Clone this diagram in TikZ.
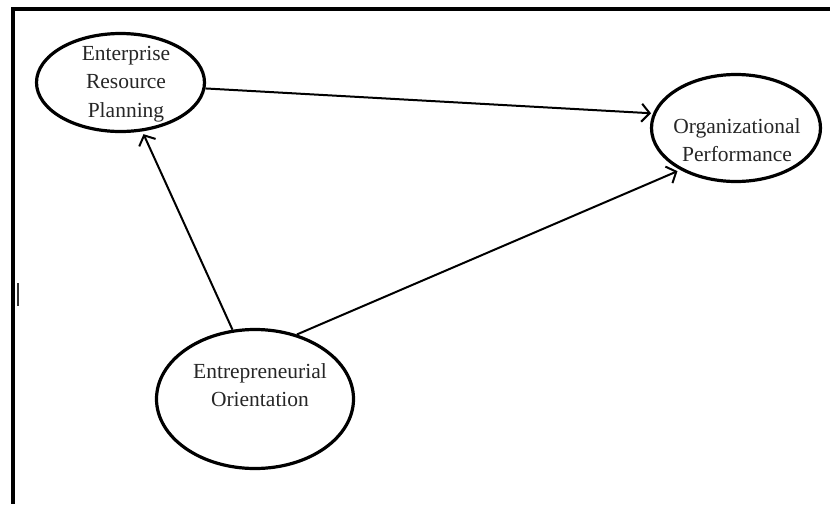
\documentclass[tikz,border=0pt]{standalone}
\usepackage{fontspec}
\setmainfont{Liberation Serif}
\usetikzlibrary{shapes.geometric,arrows.meta}
\tikzset{
  oval/.style={ellipse, draw=black, line width=3.2pt, inner sep=0pt},
  lbl/.style={align=center, font=\fontsize{21.5}{28.5}\selectfont, text=black!85, inner sep=0pt},
  conn/.style={line width=2pt, draw=black, -{Straight Barb[length=8pt,width=18pt,line width=2pt]}},
  frame/.style={line width=4pt, draw=black}
}
\begin{document}
\begin{tikzpicture}[x=1pt,y=-1pt]
\useasboundingbox (0,0) rectangle (830,504);
% frame
\coordinate (ftr) at (830,9);
\coordinate (ftl) at (13,9);
\coordinate (fbl) at (13,504);
\draw[frame] (ftr) -- (ftl) -- (fbl);
\coordinate (bara) at (18,283);
\coordinate (barb) at (18,306);
\draw[line width=2pt, draw=black!80] (bara) -- (barb);
% nodes
\node[oval, minimum width=168pt, minimum height=98pt] (erp) at (120.5,82.5) {};
\node[lbl] (erptext) at (126,84) {Enterprise\\Resource\\Planning};
\node[oval, minimum width=169pt, minimum height=107pt] (op) at (736,128) {};
\node[lbl] (optext) at (737,140) {Organizational\\Performance};
\node[oval, minimum width=197pt, minimum height=139pt] (eo) at (255,399) {};
\node[lbl] (eotext) at (260,385) {Entrepreneurial\\Orientation};
% connectors
\draw[conn, shorten >=2pt] (erp.-4) -- (op.170.5);
\draw[conn, shorten >=3pt] (eo.108) -- (erp.-66);
\draw[conn, shorten >=3pt] (eo.57) -- (op.-143);
\end{tikzpicture}
\end{document}
